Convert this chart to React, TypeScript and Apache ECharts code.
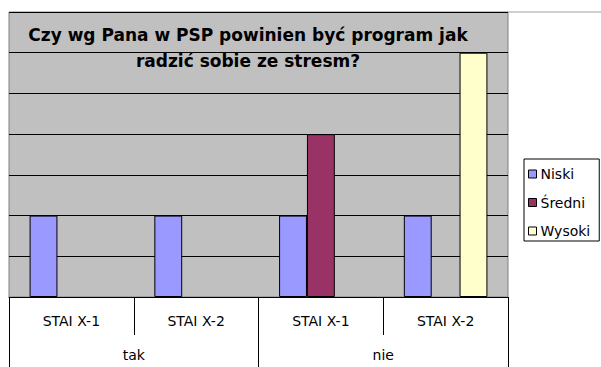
import React, { useEffect, useRef } from "react";
import * as echarts from "echarts";

const titleText = "Czy wg Pana w PSP powinien być program jak\nradzić sobie ze stresm?";
const categories = ["STAI X-1", "STAI X-2", "STAI X-1", "STAI X-2"];
const groups = ["tak", "nie"];
const seriesNames = ["Niski", "Średni", "Wysoki"];
const niski = [2, 2, 2, 2];
const sredni = [0, 0, 4, 0];
const wysoki = [0, 0, 0, 6];
const seriesColors = ["#9999FF", "#993366", "#FFFFCC"];
const yTicks = { min: 0, max: 7, interval: 1 };

const FONT = "DejaVu Sans";

export default function App() {
  const ref = useRef<HTMLDivElement>(null);
  useEffect(() => {
    if (!ref.current) return;
    const chart = echarts.init(ref.current, undefined, { renderer: "svg" });
    const values = [niski, sredni, wysoki];
    chart.setOption({
      animation: false,
      backgroundColor: "#ffffff",
      title: {
        text: titleText,
        left: 248,
        top: 22,
        padding: 0,
        textAlign: "center",
        textStyle: {
          fontFamily: FONT,
          fontWeight: "bold",
          fontSize: 17,
          lineHeight: 26,
          color: "#000",
        },
      },
      legend: {
        orient: "vertical",
        left: 524,
        top: 159,
        padding: [7, 9, 2, 4],
        itemGap: 12.5,
        itemWidth: 8,
        itemHeight: 8,
        itemStyle: { borderColor: "#000", borderWidth: 1 },
        icon: "rect",
        borderColor: "#000",
        borderWidth: 1,
        textStyle: { fontFamily: FONT, fontSize: 14, lineHeight: 16, color: "#000", padding: [0, 0, 0, -1] },
        data: seriesNames,
      },
      grid: {
        left: 9,
        top: 12,
        right: 93,
        bottom: 70,
        show: true,
        backgroundColor: "#C0C0C0",
        borderColor: "#808080",
        borderWidth: 1,
      },
      xAxis: [
        {
          type: "category",
          data: categories,
          position: "bottom",
          offset: 0,
          axisLine: { show: true, lineStyle: { color: "#000", width: 1 } },
          axisTick: { show: true, length: 38, interval: 0, lineStyle: { color: "#000" } },
          axisLabel: { interval: 0, margin: 17, fontFamily: FONT, fontSize: 14, color: "#000" },
        },
        {
          type: "category",
          data: groups,
          position: "bottom",
          offset: 0,
          axisLine: { show: false },
          axisTick: { show: true, length: 70, interval: 0, lineStyle: { color: "#000" } },
          axisLabel: { interval: 0, margin: 51, fontFamily: FONT, fontSize: 14, color: "#000" },
        },
      ],
      yAxis: {
        type: "value",
        min: yTicks.min,
        max: yTicks.max,
        interval: yTicks.interval,
        axisLine: { show: false },
        axisTick: { show: false },
        axisLabel: { show: false },
        splitLine: { show: true, lineStyle: { color: "#000", width: 1 } },
      },
      graphic: [
        {
          type: "line",
          shape: { x1: 508, y1: 12, x2: 601, y2: 12 },
          style: { stroke: "#A0A0A0", lineWidth: 1 },
          silent: true,
        },
      ],
      series: seriesNames.map((name, i) => ({
        name,
        type: "bar",
        xAxisIndex: 0,
        data: values[i].map((v) => (v === 0 ? null : v)),
        barGap: "0%",
        barCategoryGap: "33%",
        itemStyle: { color: seriesColors[i], borderColor: "#000", borderWidth: 1 },
      })),
    });
    return () => chart.dispose();
  }, []);
  return (
    <div
      ref={ref}
      style={{ position: "fixed", left: 0, top: 0, width: 601, height: 367 }}
    />
  );
}
